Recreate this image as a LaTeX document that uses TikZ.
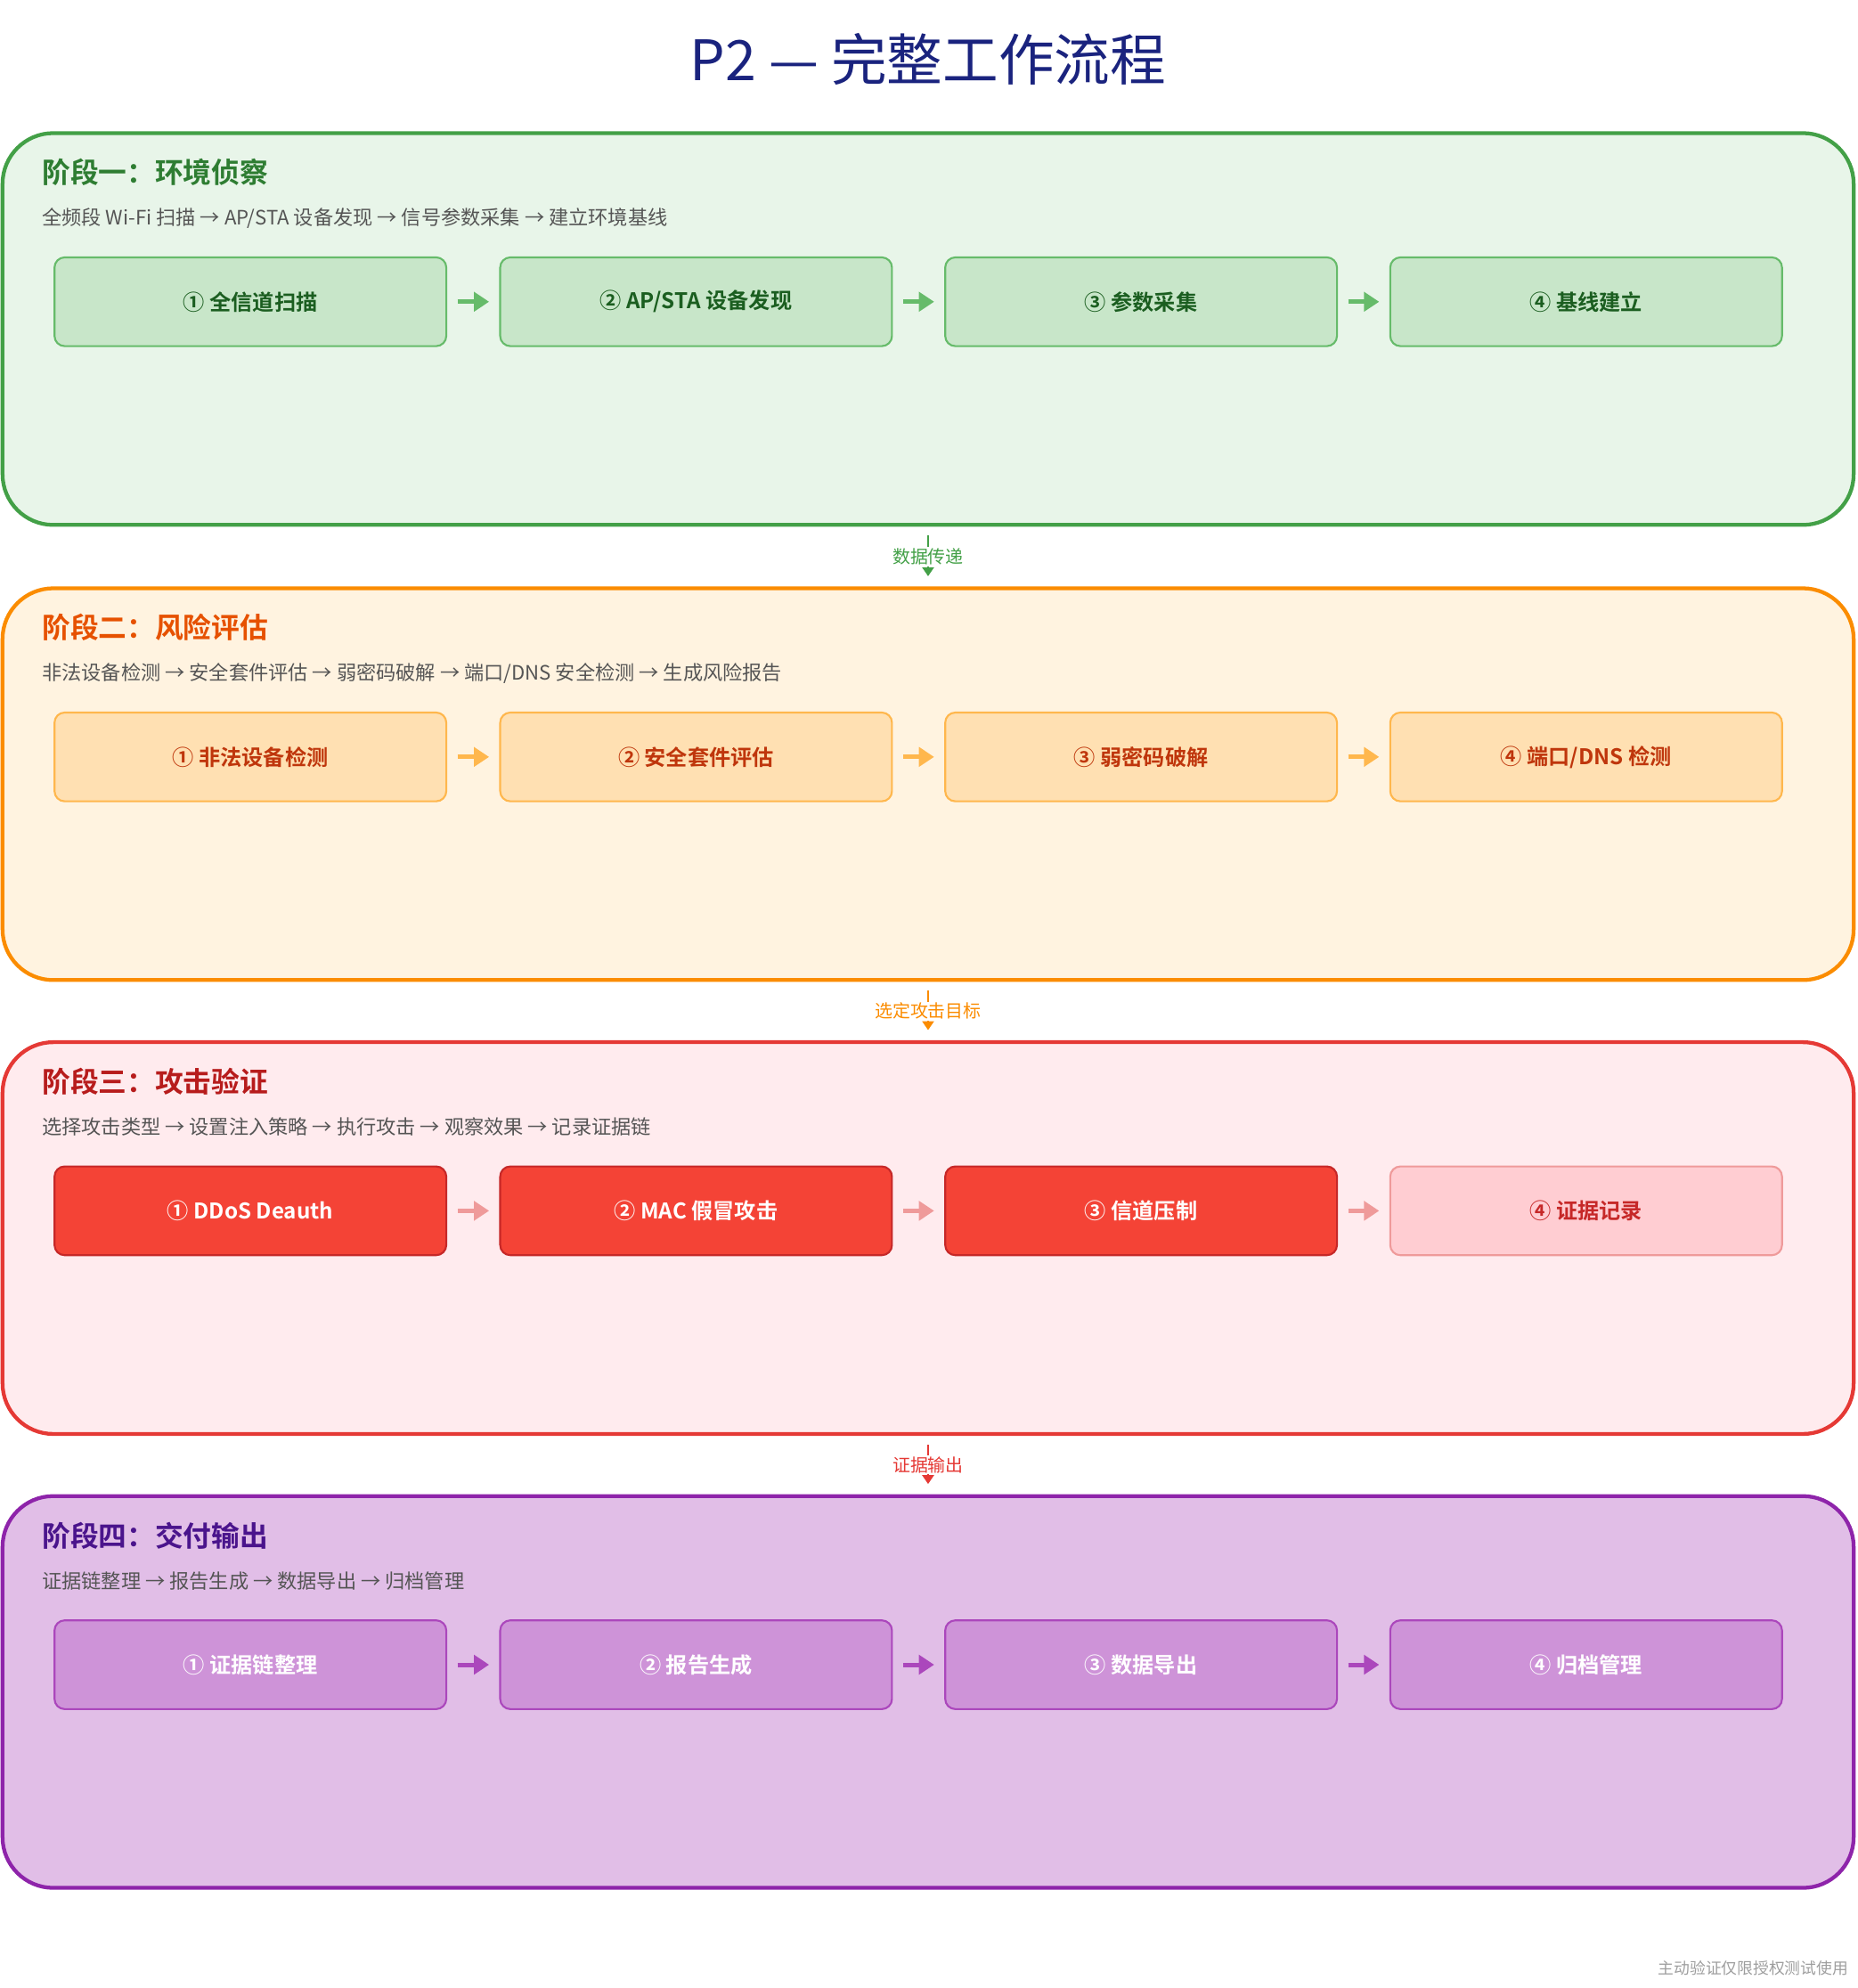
\documentclass[tikz,border=0pt]{standalone}
\usepackage{fontspec}
\setmainfont{Noto Sans CJK SC}[BoldFont={Noto Sans CJK SC Bold}]
\usetikzlibrary{arrows.meta}

\definecolor{titleblue}{HTML}{1A237E}
\definecolor{subgray}{HTML}{555555}
\definecolor{footgray}{HTML}{9E9E9E}
\definecolor{gborder}{HTML}{43A047}
\definecolor{gfill}{HTML}{E8F5E9}
\definecolor{ghead}{HTML}{2E7D32}
\definecolor{gbox}{HTML}{C8E6C9}
\definecolor{gline}{HTML}{66BB6A}
\definecolor{gtext}{HTML}{1B5E20}
\definecolor{oborder}{HTML}{FB8C00}
\definecolor{ofill}{HTML}{FFF3E0}
\definecolor{ohead}{HTML}{E65100}
\definecolor{obox}{HTML}{FFE0B2}
\definecolor{oline}{HTML}{FFB74D}
\definecolor{otext}{HTML}{BF360C}
\definecolor{rborder}{HTML}{E53935}
\definecolor{rfill}{HTML}{FFEBEE}
\definecolor{rhead}{HTML}{B71C1C}
\definecolor{rbox}{HTML}{F44336}
\definecolor{rline}{HTML}{C62828}
\definecolor{rlight}{HTML}{FFCDD2}
\definecolor{rlightline}{HTML}{EF9A9A}
\definecolor{pborder}{HTML}{8E24AA}
\definecolor{pfill}{HTML}{E1BEE7}
\definecolor{phead}{HTML}{4A148C}
\definecolor{pbox}{HTML}{CE93D8}
\definecolor{pline}{HTML}{AB47BC}

\begin{document}
\begin{tikzpicture}[x=1pt,y=-1pt,
  panel/.style={draw,line width=3pt,rounded corners=40pt,minimum width=1460pt,minimum height=309pt,inner sep=0pt},
  heading/.style={anchor=west,inner sep=0pt,font=\fontsize{22.3}{26}\selectfont\bfseries},
  subline/.style={anchor=west,inner sep=0pt,text=subgray,font=\fontsize{15.6}{18}\selectfont},
  stepbox/.style={draw,line width=1.5pt,rounded corners=8pt,minimum width=309pt,minimum height=70pt,font=\fontsize{17}{20}\selectfont\bfseries},
  flowarrow/.style={line width=3.5pt,-{Triangle[length=12pt,width=15pt]},shorten <=8pt,shorten >=8pt},
  linkarrow/.style={line width=2pt,-{Triangle[length=7pt,width=9pt]},shorten <=7pt,shorten >=8pt},
  linklabel/.style={fill=white,inner sep=1pt,font=\fontsize{14}{16}\selectfont}]
\useasboundingbox (0,0) rectangle (1465,1568);

\node[text=titleblue,font=\fontsize{44}{48}\selectfont] (title) at (732,47) {P2 — 完整工作流程};

% stage 1
\node[panel,draw=gborder,fill=gfill] (p1) at (732,259.5) {};
\node[heading,text=ghead] (h1) at (33,136) {阶段一：环境侦察};
\node[subline] (s1) at (33,172) {全频段 Wi-Fi 扫描 → AP/STA 设备发现 → 信号参数采集 → 建立环境基线};
\node[stepbox,draw=gline,fill=gbox,text=gtext] (a1) at (197.5,238) {① 全信道扫描};
\node[stepbox,draw=gline,fill=gbox,text=gtext] (a2) at (549,238) {② AP/STA 设备发现};
\node[stepbox,draw=gline,fill=gbox,text=gtext] (a3) at (900,238) {③ 参数采集};
\node[stepbox,draw=gline,fill=gbox,text=gtext] (a4) at (1251,238) {④ 基线建立};
\draw[flowarrow,gline] (a1) -- (a2);
\draw[flowarrow,gline] (a2) -- (a3);
\draw[flowarrow,gline] (a3) -- (a4);

% stage 2
\node[panel,draw=oborder,fill=ofill] (p2) at (732,618.5) {};
\node[heading,text=ohead] (h2) at (33,495) {阶段二：风险评估};
\node[subline] (s2) at (33,531) {非法设备检测 → 安全套件评估 → 弱密码破解 → 端口/DNS 安全检测 → 生成风险报告};
\node[stepbox,draw=oline,fill=obox,text=otext] (b1) at (197.5,597) {① 非法设备检测};
\node[stepbox,draw=oline,fill=obox,text=otext] (b2) at (549,597) {② 安全套件评估};
\node[stepbox,draw=oline,fill=obox,text=otext] (b3) at (900,597) {③ 弱密码破解};
\node[stepbox,draw=oline,fill=obox,text=otext] (b4) at (1251,597) {④ 端口/DNS 检测};
\draw[flowarrow,oline] (b1) -- (b2);
\draw[flowarrow,oline] (b2) -- (b3);
\draw[flowarrow,oline] (b3) -- (b4);

% stage 3
\node[panel,draw=rborder,fill=rfill] (p3) at (732,976.5) {};
\node[heading,text=rhead] (h3) at (33,853) {阶段三：攻击验证};
\node[subline] (s3) at (33,889) {选择攻击类型 → 设置注入策略 → 执行攻击 → 观察效果 → 记录证据链};
\node[stepbox,draw=rline,fill=rbox,text=white] (c1) at (197.5,955) {① DDoS Deauth};
\node[stepbox,draw=rline,fill=rbox,text=white] (c2) at (549,955) {② MAC 假冒攻击};
\node[stepbox,draw=rline,fill=rbox,text=white] (c3) at (900,955) {③ 信道压制};
\node[stepbox,draw=rlightline,fill=rlight,text=rline] (c4) at (1251,955) {④ 证据记录};
\draw[flowarrow,rlightline] (c1) -- (c2);
\draw[flowarrow,rlightline] (c2) -- (c3);
\draw[flowarrow,rlightline] (c3) -- (c4);

% stage 4
\node[panel,draw=pborder,fill=pfill] (p4) at (732,1334.5) {};
\node[heading,text=phead] (h4) at (33,1211) {阶段四：交付输出};
\node[subline] (s4) at (33,1247) {证据链整理 → 报告生成 → 数据导出 → 归档管理};
\node[stepbox,draw=pline,fill=pbox,text=white] (d1) at (197.5,1313) {① 证据链整理};
\node[stepbox,draw=pline,fill=pbox,text=white] (d2) at (549,1313) {② 报告生成};
\node[stepbox,draw=pline,fill=pbox,text=white] (d3) at (900,1313) {③ 数据导出};
\node[stepbox,draw=pline,fill=pbox,text=white] (d4) at (1251,1313) {④ 归档管理};
\draw[flowarrow,pline] (d1) -- (d2);
\draw[flowarrow,pline] (d2) -- (d3);
\draw[flowarrow,pline] (d3) -- (d4);

% links between stages
\draw[linkarrow,gborder] (p1.south) -- (p2.north) node[linklabel,midway,text=gborder] (l1) {数据传递};
\draw[linkarrow,oborder] (p2.south) -- (p3.north) node[linklabel,midway,text=oborder] (l2) {选定攻击目标};
\draw[linkarrow,rborder] (p3.south) -- (p4.north) node[linklabel,midway,text=rborder] (l3) {证据输出};

\node[anchor=east,inner sep=0pt,text=footgray,font=\fontsize{12.5}{14}\selectfont] (foot) at (1458,1552) {主动验证仅限授权测试使用};
\end{tikzpicture}
\end{document}
